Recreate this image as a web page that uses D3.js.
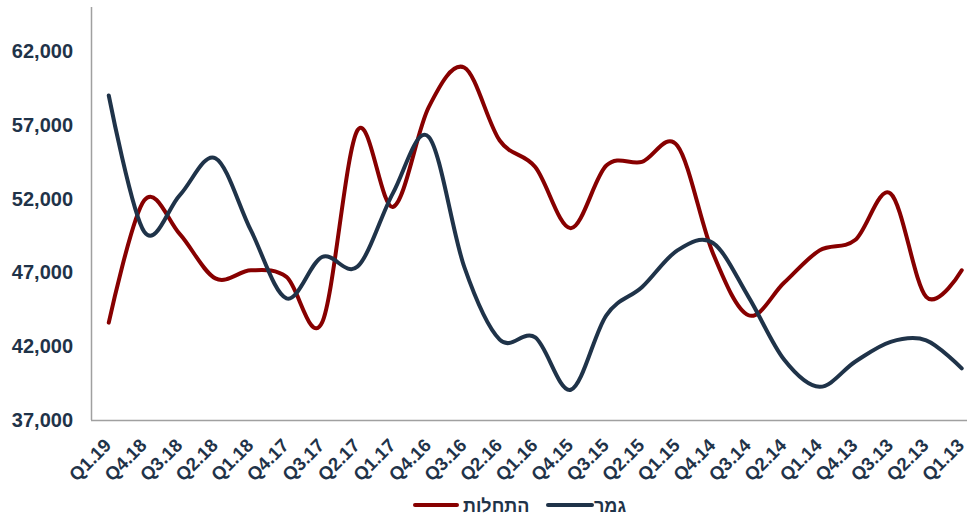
<!DOCTYPE html>
<html>
<head>
<meta charset="utf-8">
<script src="https://cdn.jsdelivr.net/npm/d3@7"></script>
<style>
  html, body { margin: 0; padding: 0; background: #fff; }
  svg { display: block; }
  text { font-family: "Liberation Sans", Arial, sans-serif; font-weight: bold; fill: #1f3349; }
</style>
</head>
<body>
<svg id="chart" width="967" height="516"></svg>
<script>
// Quarters, newest first
const quarters = ["Q1.19","Q4.18","Q3.18","Q2.18","Q1.18","Q4.17","Q3.17","Q2.17","Q1.17","Q4.16",
  "Q3.16","Q2.16","Q1.16","Q4.15","Q3.15","Q2.15","Q1.15","Q4.14","Q3.14","Q2.14",
  "Q1.14","Q4.13","Q3.13","Q2.13","Q1.13"];

// Housing starts (התחלות)
const starts = [43600, 51900, 49600, 46600, 47150, 46700, 43600, 56650, 51450, 58200,
  60900, 55950, 54150, 50000, 54250, 54500, 55600, 48300, 44100, 46300,
  48500, 49200, 52350, 45350, 47150];

// Completions (גמר)
const completions = [59000, 49750, 52250, 54750, 49850, 45250, 48050, 47400, 52400, 56200,
  47400, 42450, 42600, 39050, 44100, 46000, 48500, 49000, 45350, 41100,
  39250, 40950, 42300, 42400, 40500];

const yTicks = [37000, 42000, 47000, 52000, 57000, 62000];

const seriesNames = ["התחלות", "גמר"];
const seriesColors = ["#870000", "#1f3349"];

const svg = d3.select("#chart");
const H = 516;
const plotLeft = 91;
const plotTop = 7;
const plotBottom = 420;

const x = d3.scalePoint()
  .domain(quarters)
  .range([plotLeft, plotLeft + 35.54 * quarters.length])
  .padding(0.5);

const y = d3.scaleLinear()
  .domain([37000, 65000])
  .range([plotBottom, plotTop]);

// Axis lines
svg.append("line")
  .attr("x1", plotLeft + 0.5).attr("x2", plotLeft + 0.5)
  .attr("y1", y(65000)).attr("y2", plotBottom)
  .attr("stroke", "#a0a0a0").attr("stroke-width", 1.5);
svg.append("line")
  .attr("x1", plotLeft).attr("x2", 967)
  .attr("y1", plotBottom + 0.5).attr("y2", plotBottom + 0.5)
  .attr("stroke", "#a0a0a0").attr("stroke-width", 1.5);

// Y axis labels
const yAxis = d3.axisLeft(y).tickValues(yTicks).tickSize(0).tickPadding(18)
  .tickFormat(d3.format(","));
const gy = svg.append("g").attr("transform", `translate(${plotLeft},0)`).call(yAxis);
gy.select(".domain").remove();
gy.selectAll("text")
  .style("font-size", "20px")
  .style("font-family", "'Liberation Sans', Arial, sans-serif")
  .style("font-weight", "bold")
  .attr("fill", "#1f3349");

// X axis labels (rotated)
const xAxis = d3.axisBottom(x).tickSize(0).tickPadding(0);
const gx = svg.append("g").attr("transform", `translate(0,${plotBottom})`).call(xAxis);
gx.select(".domain").remove();
gx.selectAll("text")
  .style("font-size", "18.5px")
  .style("font-family", "'Liberation Sans', Arial, sans-serif")
  .style("font-weight", "bold")
  .attr("fill", "#1f3349")
  .attr("text-anchor", "end")
  .attr("y", 0)
  .attr("dy", "0.35em")
  .attr("transform", "translate(-1.5,22) rotate(-45)");

// Smoothed lines
const line = d3.line()
  .x((d, i) => x(quarters[i]))
  .y(d => y(d))
  .curve(d3.curveCatmullRom.alpha(0));

[starts, completions].forEach((vals, k) => {
  svg.append("path")
    .datum(vals)
    .attr("d", line)
    .attr("fill", "none")
    .attr("stroke", seriesColors[k])
    .attr("stroke-width", 4)
    .attr("stroke-linecap", "round")
    .attr("stroke-linejoin", "round");
});

// Legend
const legend = svg.append("g").attr("transform", "translate(0,505)");
const legendItems = [
  { x0: 415, len: 42, gap: 6, name: seriesNames[0], color: seriesColors[0] },
  { x0: 548, len: 44, gap: 2, name: seriesNames[1], color: seriesColors[1] }
];
legendItems.forEach(it => {
  legend.append("line")
    .attr("x1", it.x0).attr("x2", it.x0 + it.len)
    .attr("y1", 0).attr("y2", 0)
    .attr("stroke", it.color).attr("stroke-width", 4)
    .attr("stroke-linecap", "round");
  legend.append("text")
    .attr("x", it.x0 + it.len + it.gap).attr("y", 0)
    .attr("dy", "0.38em")
    .attr("direction", "ltr")
    .style("font-size", "18px")
    .text(it.name);
});
</script>
</body>
</html>
